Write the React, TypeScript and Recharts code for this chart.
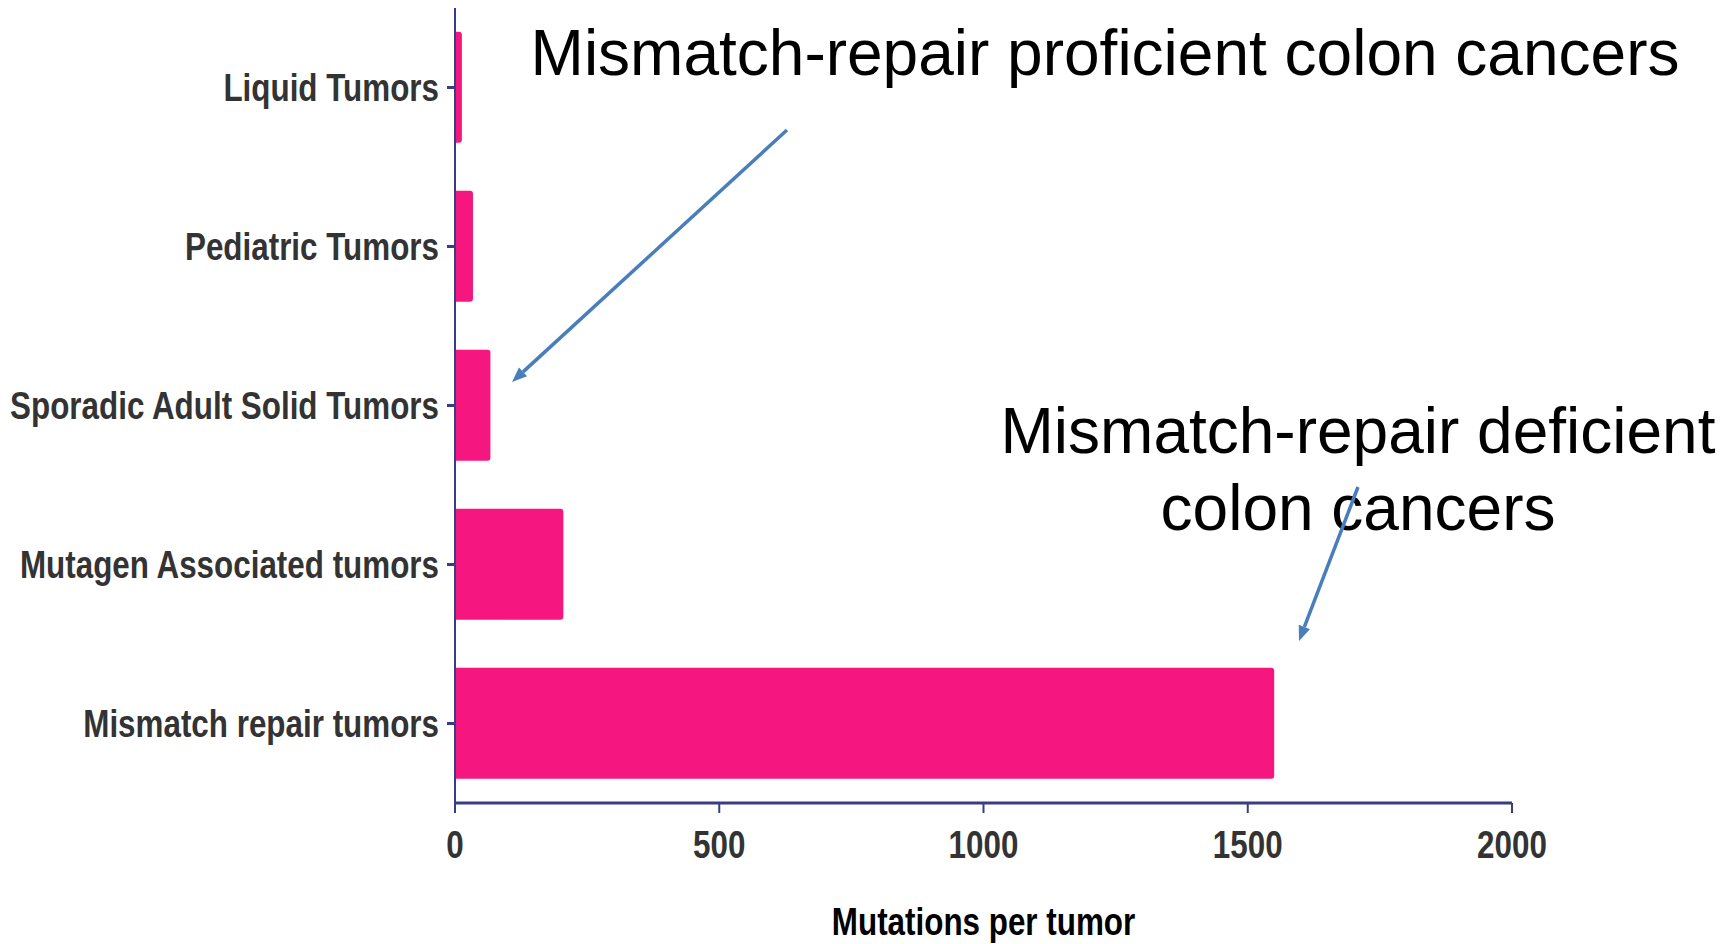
import React from 'react';
import { Bar, BarChart, XAxis, YAxis } from 'recharts';

const categories = [
  'Liquid Tumors',
  'Pediatric Tumors',
  'Sporadic Adult Solid Tumors',
  'Mutagen Associated tumors',
  'Mismatch repair tumors',
];
const mutations = [13, 34, 67, 205, 1550];
const xTicks = [0, 500, 1000, 1500, 2000];

const data = categories.map((name, i) => ({ name, mutations: mutations[i] }));

const AXIS = '#383d86';
const PINK = '#f5177f';
const ARROW = '#4a7ebb';
const SANS = "'Liberation Sans', Arial, sans-serif";
// condensed bold look of the original (Arial Narrow style)
const SQUEEZE = 0.826;

const NarrowText = (props: any) => {
  const { x, y, anchor, dy, fill, children } = props;
  return (
    <g transform={`translate(${x},${y}) scale(${SQUEEZE},1)`}>
      <text
        x={0}
        y={0}
        dy={dy}
        textAnchor={anchor}
        fontFamily={SANS}
        fontWeight="bold"
        fontSize={38}
        fill={fill}
      >
        {children}
      </text>
    </g>
  );
};

const YTick = (props: any) => (
  <NarrowText x={props.x} y={props.y} anchor="end" dy={13} fill="#333">
    {props.payload.value}
  </NarrowText>
);

const XTick = (props: any) => (
  <NarrowText x={props.x} y={props.y} anchor="middle" dy={27} fill="#333">
    {props.payload.value}
  </NarrowText>
);

const XTitle = (props: any) => {
  const vb = props.viewBox;
  return (
    <NarrowText x={vb.x + vb.width / 2} y={935} anchor="middle" dy={0} fill="#000">
      Mutations per tumor
    </NarrowText>
  );
};

const Arrow = ({ x1, y1, x2, y2 }: { x1: number; y1: number; x2: number; y2: number }) => {
  const a = Math.atan2(y2 - y1, x2 - x1);
  const len = 15;
  const half = 6;
  const bx = x2 - len * Math.cos(a);
  const by = y2 - len * Math.sin(a);
  const px = -Math.sin(a) * half;
  const py = Math.cos(a) * half;
  return (
    <g>
      <line x1={x1} y1={y1} x2={bx} y2={by} stroke={ARROW} strokeWidth={3.5} />
      <polygon points={`${x2},${y2} ${bx + px},${by + py} ${bx - px},${by - py}`} fill={ARROW} />
    </g>
  );
};

export default function App() {
  return (
    <div style={{ position: 'absolute', left: 0, top: 0, width: 1734, height: 944, background: '#fff' }}>
      <BarChart
        width={1734}
        height={944}
        data={data}
        layout="vertical"
        barCategoryGap="15%"
        margin={{ top: 8, right: 222, bottom: 0, left: 15 }}
      >
        <XAxis
          type="number"
          domain={[0, 2000]}
          ticks={xTicks}
          height={141}
          axisLine={{ stroke: AXIS, strokeWidth: 3 }}
          tickLine={{ stroke: AXIS, strokeWidth: 2 }}
          tickSize={10}
          tickMargin={18}
          tick={<XTick />}
          label={<XTitle />}
        />
        <YAxis
          type="category"
          dataKey="name"
          width={440}
          axisLine={{ stroke: AXIS, strokeWidth: 2 }}
          tickLine={{ stroke: AXIS, strokeWidth: 3 }}
          tickSize={8}
          tickMargin={8}
          interval={0}
          tick={<YTick />}
        />
        <Bar dataKey="mutations" fill={PINK} radius={[0, 3, 3, 0]} isAnimationActive={false} />
      </BarChart>
      <svg
        width={1734}
        height={944}
        style={{ position: 'absolute', left: 0, top: 0, pointerEvents: 'none' }}
      >
        <text x={1105} y={75} textAnchor="middle" fontFamily={SANS} fontSize={64} fill="#000">
          Mismatch-repair proficient colon cancers
        </text>
        <text x={1358} y={453} textAnchor="middle" fontFamily={SANS} fontSize={64} fill="#000">
          Mismatch-repair deficient
        </text>
        <text x={1358} y={530} textAnchor="middle" fontFamily={SANS} fontSize={64} fill="#000">
          colon cancers
        </text>
        <Arrow x1={787} y1={130} x2={512} y2={382} />
        <Arrow x1={1358} y1={487} x2={1299} y2={641} />
      </svg>
    </div>
  );
}
